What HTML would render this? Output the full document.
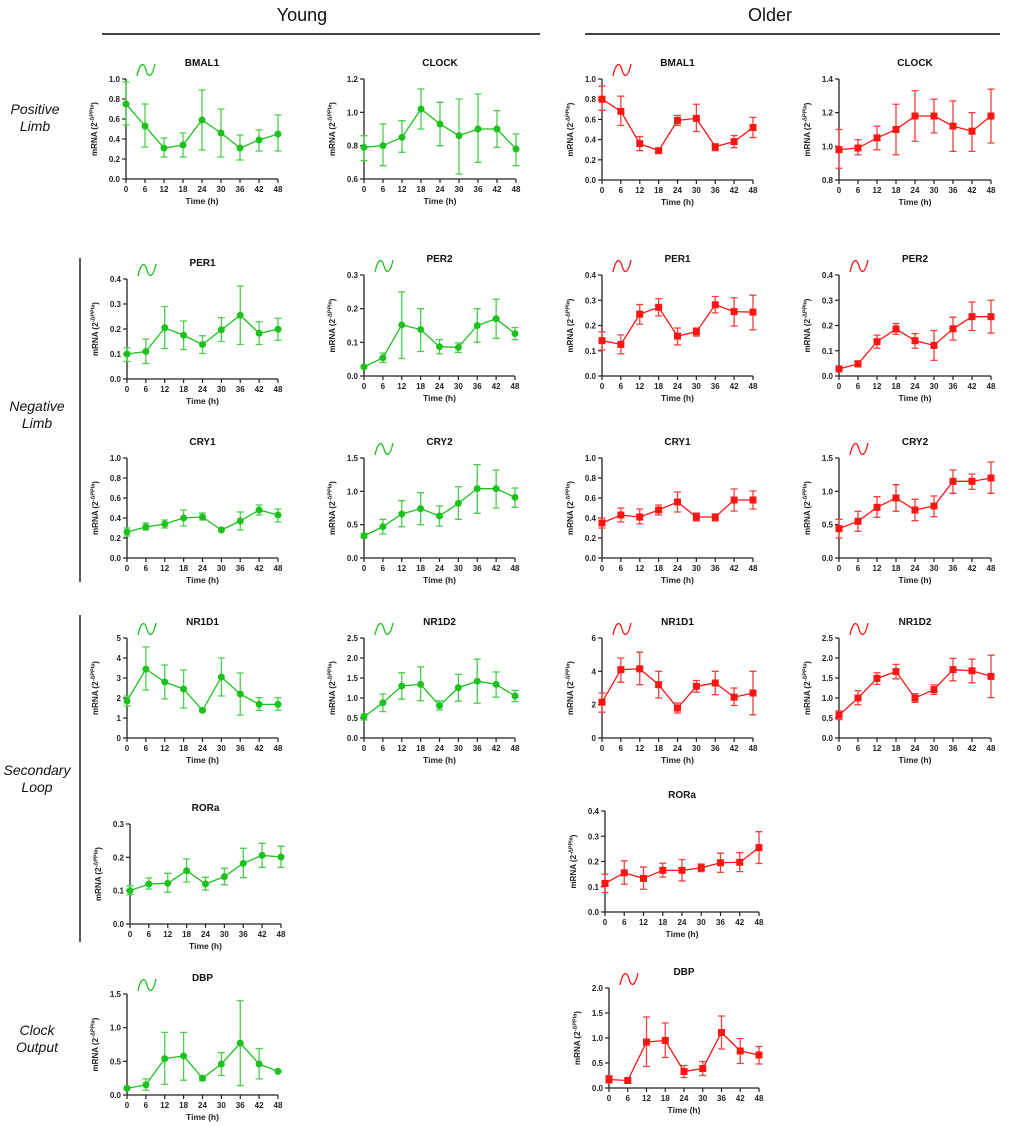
<!DOCTYPE html>
<html><head><meta charset="utf-8">
<style>
html,body{margin:0;padding:0;background:#fff;}
svg{display:block;font-family:"Liberation Sans",Arial,sans-serif;}
</style></head>
<body>
<svg id="fig" width="1020" height="1126" viewBox="0 0 1020 1126" xmlns="http://www.w3.org/2000/svg">
<text x="302" y="21" font-size="18" text-anchor="middle" fill="#111">Young</text>
<line x1="102" y1="34" x2="540" y2="34" stroke="#444" stroke-width="2"/>
<text x="770" y="21" font-size="18" text-anchor="middle" fill="#111">Older</text>
<line x1="585" y1="34" x2="1000" y2="34" stroke="#444" stroke-width="2"/>
<g font-size="14" font-style="italic" text-anchor="middle" fill="#111">
<text x="35" y="114"><tspan x="35">Positive</tspan><tspan x="35" dy="17">Limb</tspan></text>
<text x="37" y="411"><tspan x="37">Negative</tspan><tspan x="37" dy="17">Limb</tspan></text>
<text x="37" y="775"><tspan x="37">Secondary</tspan><tspan x="37" dy="17">Loop</tspan></text>
<text x="37" y="1035"><tspan x="37">Clock</tspan><tspan x="37" dy="17">Output</tspan></text>
</g>
<line x1="80" y1="258" x2="80" y2="582" stroke="#222" stroke-width="1.5"/>
<line x1="80" y1="615" x2="80" y2="942" stroke="#222" stroke-width="1.5"/>
</svg>
<script>
const times = [0,6,12,18,24,30,36,42,48];

const yBmal1Mean = [0.75,0.53,0.31,0.34,0.59,0.46,0.31,0.39,0.45];
const yBmal1Hi = [0.97,0.75,0.41,0.46,0.89,0.70,0.44,0.49,0.64];
const yBmal1Lo = [0.54,0.32,0.22,0.22,0.29,0.22,0.19,0.28,0.28];
const yClockMean = [0.79,0.80,0.85,1.02,0.93,0.86,0.90,0.90,0.78];
const yClockHi = [0.86,0.93,0.95,1.14,1.06,1.08,1.11,1.01,0.87];
const yClockLo = [0.71,0.68,0.76,0.90,0.80,0.63,0.70,0.79,0.68];
const oBmal1Mean = [0.80,0.68,0.36,0.29,0.59,0.61,0.33,0.38,0.52];
const oBmal1Hi = [0.93,0.83,0.43,0.31,0.64,0.75,0.35,0.44,0.62];
const oBmal1Lo = [0.69,0.54,0.29,0.27,0.54,0.48,0.29,0.32,0.42];
const oClockMean = [0.98,0.99,1.05,1.10,1.18,1.18,1.12,1.09,1.18];
const oClockHi = [1.10,1.04,1.12,1.25,1.33,1.28,1.27,1.20,1.34];
const oClockLo = [0.87,0.95,0.98,0.95,1.03,1.08,0.97,0.97,1.02];
const yPer1Mean = [0.10,0.11,0.205,0.175,0.138,0.197,0.255,0.183,0.199];
const yPer1Hi = [0.125,0.16,0.29,0.232,0.173,0.245,0.372,0.229,0.243];
const yPer1Lo = [0.07,0.062,0.122,0.118,0.102,0.15,0.138,0.138,0.155];
const yPer2Mean = [0.027,0.054,0.152,0.138,0.087,0.085,0.15,0.17,0.126];
const yPer2Hi = [0.03,0.068,0.25,0.20,0.108,0.098,0.20,0.228,0.144];
const yPer2Lo = [0.024,0.04,0.052,0.073,0.066,0.07,0.10,0.112,0.108];
const oPer1Mean = [0.14,0.125,0.245,0.272,0.158,0.175,0.282,0.255,0.253];
const oPer1Hi = [0.175,0.163,0.283,0.306,0.19,0.19,0.315,0.31,0.32];
const oPer1Lo = [0.103,0.088,0.205,0.238,0.123,0.158,0.25,0.198,0.183];
const oPer2Mean = [0.028,0.048,0.136,0.186,0.14,0.121,0.187,0.235,0.235];
const oPer2Hi = [0.035,0.06,0.162,0.208,0.168,0.18,0.233,0.293,0.30];
const oPer2Lo = [0.022,0.036,0.11,0.165,0.11,0.062,0.142,0.18,0.17];
const yCry1Mean = [0.26,0.31,0.34,0.40,0.41,0.28,0.37,0.48,0.43];
const yCry1Hi = [0.30,0.35,0.38,0.48,0.45,0.30,0.46,0.53,0.49];
const yCry1Lo = [0.22,0.28,0.30,0.32,0.38,0.27,0.28,0.43,0.36];
const yCry2Mean = [0.33,0.47,0.66,0.74,0.63,0.82,1.04,1.04,0.91];
const yCry2Hi = [0.37,0.58,0.86,0.98,0.78,1.07,1.40,1.32,1.05];
const yCry2Lo = [0.30,0.36,0.47,0.50,0.48,0.58,0.67,0.75,0.76];
const oCry1Mean = [0.35,0.43,0.41,0.48,0.56,0.41,0.41,0.58,0.58];
const oCry1Hi = [0.40,0.50,0.49,0.53,0.66,0.45,0.44,0.69,0.67];
const oCry1Lo = [0.30,0.36,0.34,0.43,0.46,0.37,0.37,0.47,0.49];
const oCry2Mean = [0.44,0.55,0.76,0.90,0.72,0.78,1.15,1.15,1.20];
const oCry2Hi = [0.58,0.70,0.92,1.10,0.88,0.93,1.32,1.26,1.44];
const oCry2Lo = [0.30,0.40,0.61,0.70,0.56,0.62,0.97,1.03,0.97];
const yNr1d1Mean = [1.85,3.45,2.8,2.45,1.38,3.05,2.2,1.68,1.68];
const yNr1d1Hi = [2.1,4.55,3.65,3.4,1.45,4.0,3.25,2.02,2.02];
const yNr1d1Lo = [1.6,2.4,1.95,1.5,1.31,2.1,1.15,1.38,1.38];
const yNr1d2Mean = [0.53,0.88,1.30,1.34,0.81,1.26,1.42,1.34,1.05];
const yNr1d2Hi = [0.6,1.10,1.63,1.78,0.93,1.59,1.97,1.65,1.19];
const yNr1d2Lo = [0.45,0.66,0.97,0.93,0.70,0.92,0.87,1.02,0.91];
const oNr1d1Mean = [2.15,4.1,4.15,3.2,1.8,3.1,3.3,2.45,2.7];
const oNr1d1Hi = [2.7,4.8,5.15,4.0,2.1,3.45,4.0,3.0,4.0];
const oNr1d1Lo = [1.55,3.35,3.2,2.4,1.5,2.75,2.6,1.95,1.4];
const oNr1d2Mean = [0.57,1.0,1.49,1.66,1.0,1.21,1.71,1.68,1.54];
const oNr1d2Hi = [0.68,1.18,1.63,1.84,1.11,1.33,1.99,1.97,2.07];
const oNr1d2Lo = [0.46,0.83,1.34,1.48,0.89,1.09,1.43,1.38,1.01];
const yRoraMean = [0.10,0.12,0.122,0.16,0.12,0.142,0.182,0.206,0.201];
const yRoraHi = [0.115,0.138,0.152,0.195,0.14,0.167,0.227,0.242,0.233];
const yRoraLo = [0.088,0.105,0.095,0.126,0.102,0.118,0.139,0.17,0.17];
const oRoraMean = [0.113,0.155,0.133,0.165,0.165,0.175,0.195,0.197,0.255];
const oRoraHi = [0.15,0.203,0.178,0.193,0.208,0.19,0.233,0.235,0.318];
const oRoraLo = [0.077,0.11,0.09,0.138,0.123,0.16,0.157,0.16,0.192];
const yDbpMean = [0.10,0.15,0.54,0.58,0.25,0.46,0.77,0.46,0.35];
const yDbpHi = [0.11,0.24,0.93,0.93,0.28,0.63,1.40,0.69,0.36];
const yDbpLo = [0.09,0.07,0.16,0.22,0.21,0.29,0.14,0.24,0.34];
const oDbpMean = [0.17,0.15,0.92,0.95,0.33,0.39,1.11,0.74,0.66];
const oDbpHi = [0.25,0.16,1.42,1.30,0.45,0.53,1.44,0.99,0.83];
const oDbpLo = [0.10,0.14,0.43,0.61,0.21,0.25,0.78,0.49,0.48];

const ticks1 = [0,0.2,0.4,0.6,0.8,1.0];
const ticksClockY = [0.6,0.8,1.0,1.2];
const ticksClockO = [0.8,1.0,1.2,1.4];
const ticks04 = [0,0.1,0.2,0.3,0.4];
const ticks03 = [0,0.1,0.2,0.3];
const ticks15 = [0,0.5,1.0,1.5];
const ticks25 = [0,0.5,1.0,1.5,2.0,2.5];
const ticks5 = [0,1,2,3,4,5];
const ticks6 = [0,2,4,6];
const ticks20 = [0,0.5,1.0,1.5,2.0];

const NS = "http://www.w3.org/2000/svg";
const svg = document.getElementById('fig');
function mk(tag, attrs, parent){ const e=document.createElementNS(NS,tag); for(const k in attrs) e.setAttribute(k,attrs[k]); (parent||svg).appendChild(e); return e; }

function panel(id, title, x0, x1, top, bot, ticks, dec, mean, hi, lo, old, icon){
  const g = mk('g',{});
  
  
  const ymin = ticks[0], ymax = ticks[ticks.length-1];
  const sx = t => x0 + (t - times[0])/(times[times.length-1]-times[0])*(x1-x0);
  const sy = v => bot - (v - ymin)/(ymax-ymin)*(bot-top);
  const col = old ? '#ff1414' : '#1cc21c';
  const ecol = old ? '#f04040' : '#4cce4c';
  const t = mk('text',{x:(x0+x1)/2,y:top-13,'font-size':10,'font-weight':'bold','text-anchor':'middle',fill:'#111'},g);
  t.textContent = title;
  
  
  if(icon){
    const p = mk('path',{d:`M${x0+11},${top-3} C${x0+14},${top-17} ${x0+18},${top-17} ${x0+20},${top-9} S${x0+26},${top-1} ${x0+29},${top-15}`,fill:'none',stroke:col,'stroke-width':1.3},g);
    
    
  }
  const ax = mk('path',{d:`M${x0},${top} V${bot} H${x1}`,fill:'none',stroke:'#222','stroke-width':1.3},g);
  
  
  ticks.forEach(v=>{
    const y = sy(v);
    mk('line',{x1:x0-4,y1:y,x2:x0,y2:y,stroke:'#222','stroke-width':1.2},g);
    const l = mk('text',{x:x0-6,y:y+3,'font-size':8,'font-weight':'bold','text-anchor':'end',fill:'#222'},g);
    l.textContent = v.toFixed(dec);
    
    
  });
  times.forEach(tm=>{
    const x = sx(tm);
    mk('line',{x1:x,y1:bot,x2:x,y2:bot+4,stroke:'#222','stroke-width':1.2},g);
    const l = mk('text',{x:x,y:bot+13,'font-size':8,'font-weight':'bold','text-anchor':'middle',fill:'#222'},g);
    l.textContent = tm;
    
    
  });
  const xt = mk('text',{x:(x0+x1)/2,y:bot+25,'font-size':8.5,'font-weight':'bold','text-anchor':'middle',fill:'#222'},g);
  xt.textContent = 'Time (h)';
  
  
  const cy = (top+bot)/2, lx = x0-29;
  const yt = mk('text',{x:lx,y:cy,'font-size':8,'font-weight':'bold','text-anchor':'middle',fill:'#222',transform:`rotate(-90 ${lx} ${cy})`},g);
  
  
  const a = mk('tspan',{},yt); a.textContent='mRNA (2';
  const b = mk('tspan',{'font-size':5.5,dy:-3.5}); yt.appendChild(b); b.textContent='-ΔPPIa';
  const c = mk('tspan',{dy:3.5}); yt.appendChild(c); c.textContent=')';
  // error bars
  times.forEach((tm,i)=>{
    const x = sx(tm);
    const e = mk('path',{d:`M${x},${sy(hi[i])} V${sy(lo[i])} M${x-3.5},${sy(hi[i])} H${x+3.5} M${x-3.5},${sy(lo[i])} H${x+3.5}`,stroke:ecol,'stroke-width':1.3,fill:'none'},g);
    
    
  });
  const ln = mk('polyline',{points:times.map((tm,i)=>sx(tm)+','+sy(mean[i])).join(' '),fill:'none',stroke:col,'stroke-width':1.3},g);
  
  
  times.forEach((tm,i)=>{
    const x = sx(tm), y = sy(mean[i]);
    let m;
    if(old) m = mk('rect',{x:x-3.5,y:y-3.5,width:7,height:7,fill:col},g);
    else m = mk('circle',{cx:x,cy:y,r:3.5,fill:col},g);
    
    
  });
}

panel('young-bmal1','BMAL1',126,278,79,179,ticks1,1,yBmal1Mean,yBmal1Hi,yBmal1Lo,false,true);
panel('young-clock','CLOCK',364,516,79,179,ticksClockY,1,yClockMean,yClockHi,yClockLo,false,false);
panel('older-bmal1','BMAL1',602,753,79,180,ticks1,1,oBmal1Mean,oBmal1Hi,oBmal1Lo,true,true);
panel('older-clock','CLOCK',839,991,79,180,ticksClockO,1,oClockMean,oClockHi,oClockLo,true,false);
panel('young-per1','PER1',127,278,279,379,ticks04,1,yPer1Mean,yPer1Hi,yPer1Lo,false,true);
panel('young-per2','PER2',364,515,275,376,ticks03,1,yPer2Mean,yPer2Hi,yPer2Lo,false,true);
panel('older-per1','PER1',602,753,275,376,ticks04,1,oPer1Mean,oPer1Hi,oPer1Lo,true,true);
panel('older-per2','PER2',839,991,275,376,ticks04,1,oPer2Mean,oPer2Hi,oPer2Lo,true,true);
panel('young-cry1','CRY1',127,278,458,558,ticks1,1,yCry1Mean,yCry1Hi,yCry1Lo,false,false);
panel('young-cry2','CRY2',364,515,458,558,ticks15,1,yCry2Mean,yCry2Hi,yCry2Lo,false,true);
panel('older-cry1','CRY1',602,753,458,558,ticks1,1,oCry1Mean,oCry1Hi,oCry1Lo,true,false);
panel('older-cry2','CRY2',839,991,458,558,ticks15,1,oCry2Mean,oCry2Hi,oCry2Lo,true,true);
panel('young-nr1d1','NR1D1',127,278,638,738,ticks5,0,yNr1d1Mean,yNr1d1Hi,yNr1d1Lo,false,true);
panel('young-nr1d2','NR1D2',364,515,638,738,ticks25,1,yNr1d2Mean,yNr1d2Hi,yNr1d2Lo,false,true);
panel('older-nr1d1','NR1D1',602,753,638,738,ticks6,0,oNr1d1Mean,oNr1d1Hi,oNr1d1Lo,true,true);
panel('older-nr1d2','NR1D2',839,991,638,738,ticks25,1,oNr1d2Mean,oNr1d2Hi,oNr1d2Lo,true,true);
panel('young-rora','RORa',130,281,824,924,ticks03,1,yRoraMean,yRoraHi,yRoraLo,false,false);
panel('older-rora','RORa',605,759,811,912,ticks04,1,oRoraMean,oRoraHi,oRoraLo,true,false);
panel('young-dbp','DBP',127,278,994,1095,ticks15,1,yDbpMean,yDbpHi,yDbpLo,false,true);
panel('older-dbp','DBP',609,759,988,1088,ticks20,1,oDbpMean,oDbpHi,oDbpLo,true,true);
</script>
</body></html>
